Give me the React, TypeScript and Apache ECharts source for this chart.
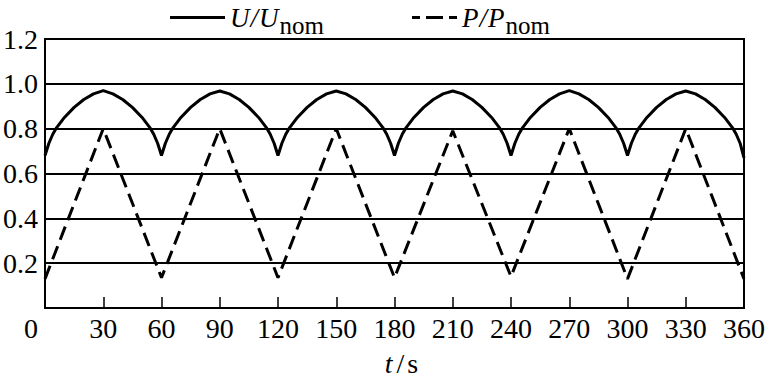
import React, { useEffect, useRef } from "react";
import * as echarts from "echarts";

// U/Unom samples (time in s, value)
const uTimes = [
  0, 2, 4, 6, 10, 15, 20, 25, 30, 35, 40, 45, 50, 54, 56, 58,
  60, 62, 64, 66, 70, 75, 80, 85, 90, 95, 100, 105, 110, 114, 116, 118,
  120, 122, 124, 126, 130, 135, 140, 145, 150, 155, 160, 165, 170, 174, 176, 178,
  180, 182, 184, 186, 190, 195, 200, 205, 210, 215, 220, 225, 230, 234, 236, 238,
  240, 242, 244, 246, 250, 255, 260, 265, 270, 275, 280, 285, 290, 294, 296, 298,
  300, 302, 304, 306, 310, 315, 320, 325, 330, 335, 340, 345, 350, 354, 356, 358,
  360,
];
const uValues = [
  0.68, 0.735, 0.775, 0.805, 0.85, 0.895, 0.93, 0.955, 0.97, 0.955, 0.93, 0.895, 0.85, 0.805, 0.775, 0.735,
  0.68, 0.735, 0.775, 0.805, 0.85, 0.895, 0.93, 0.955, 0.968, 0.955, 0.93, 0.895, 0.85, 0.805, 0.775, 0.735,
  0.68, 0.735, 0.775, 0.805, 0.85, 0.895, 0.93, 0.955, 0.968, 0.955, 0.93, 0.895, 0.85, 0.805, 0.775, 0.735,
  0.68, 0.735, 0.775, 0.805, 0.85, 0.895, 0.93, 0.955, 0.968, 0.955, 0.93, 0.895, 0.85, 0.805, 0.775, 0.735,
  0.68, 0.735, 0.775, 0.805, 0.85, 0.895, 0.93, 0.955, 0.97, 0.955, 0.93, 0.895, 0.85, 0.805, 0.775, 0.735,
  0.68, 0.735, 0.775, 0.805, 0.85, 0.895, 0.93, 0.955, 0.968, 0.955, 0.93, 0.895, 0.85, 0.805, 0.775, 0.735,
  0.67,
];

// P/Pnom samples
const pTimes = [0, 30, 60, 90, 120, 150, 180, 210, 240, 270, 300, 330, 360];
const pValues = [0.13, 0.8, 0.135, 0.8, 0.135, 0.8, 0.135, 0.79, 0.14, 0.8, 0.13, 0.8, 0.13];

const xTicks = { min: 0, max: 360, interval: 30 };
const yTicks = { min: 0, max: 1.2, interval: 0.2 };

const FONT = "Liberation Serif";

export default function App() {
  const ref = useRef<HTMLDivElement>(null);
  useEffect(() => {
    if (!ref.current) return;
    const chart = echarts.init(ref.current, null, { renderer: "svg" });
    const legendRich = {
      i: { fontStyle: "italic", fontSize: 27, fontFamily: FONT, color: "#000", lineHeight: 26 },
      n: { fontStyle: "italic", fontSize: 27, fontFamily: FONT, color: "#000", lineHeight: 26, padding: [0, 1, 0, 1] },
      s: { fontSize: 25, fontFamily: FONT, color: "#000", lineHeight: 26, padding: [16, 0, 0, 1] },
    };
    const legendText = { padding: [0, 0, 0, 0], rich: legendRich };
    chart.setOption({
      animation: false,
      backgroundColor: "#fff",
      grid: {
        left: 42,
        right: 21,
        top: 39,
        bottom: 70,
        show: true,
        borderColor: "#000",
        borderWidth: 2,
        backgroundColor: "transparent",
      },
      legend: [
        {
          left: 165,
          top: -8,
          itemWidth: 55,
          itemHeight: 3,
          icon: "rect",
          data: ["U"],
          formatter: () => "{i|U}{n|/}{i|U}{s|nom}",
          textStyle: legendText,
        },
        {
          left: 407,
          top: -8,
          itemWidth: 45,
          itemHeight: 3,
          icon: "path://M0,0h8v3h-8z M14,0h17v3h-17z M37,0h8v3h-8z",
          data: ["P"],
          formatter: () => "{i|P}{n|/}{i|P}{s|nom}",
          textStyle: legendText,
        },
      ],
      xAxis: {
        type: "value",
        min: xTicks.min,
        max: xTicks.max,
        interval: xTicks.interval,
        name: "{i|t}{n|/}{m|s}",
        nameLocation: "middle",
        nameGap: 41,
        nameTextStyle: {
          fontSize: 28,
          fontFamily: FONT,
          color: "#000",
          padding: [0, 0, 0, 14],
          rich: {
            i: { fontStyle: "italic", fontSize: 28, fontFamily: FONT, color: "#000", padding: [0, 4, 0, 0] },
            n: { fontSize: 28, fontFamily: FONT, color: "#000", padding: [0, 3, 0, 0] },
            m: { fontSize: 28, fontFamily: FONT, color: "#000" },
          },
        },
        axisLine: { show: true, lineStyle: { color: "#000", width: 2 } },
        axisTick: { show: true, inside: true, length: 11, lineStyle: { color: "#000", width: 1.5 } },
        splitLine: { show: false },
        axisLabel: {
          fontSize: 28,
          fontFamily: FONT,
          color: "#000",
          margin: 6,
          formatter: (v: number) => (v === 0 ? "{z|0}" : String(v)),
          rich: { z: { fontSize: 28, fontFamily: FONT, color: "#000", padding: [0, 28, 0, 0] } },
        },
      },
      yAxis: {
        type: "value",
        min: yTicks.min,
        max: yTicks.max,
        interval: yTicks.interval,
        axisLine: { show: true, lineStyle: { color: "#000", width: 2 } },
        axisTick: { show: false },
        splitLine: { show: true, lineStyle: { color: "#000", width: 2 } },
        axisLabel: {
          fontSize: 28,
          fontFamily: FONT,
          color: "#000",
          margin: 7,
          showMinLabel: false,
          formatter: (v: number) => v.toFixed(1),
        },
      },
      series: [
        {
          name: "U",
          type: "line",
          symbol: "none",
          showSymbol: false,
          data: uTimes.map((t, i) => [t, uValues[i]]),
          lineStyle: { color: "#000", width: 3 },
          itemStyle: { color: "#000" },
        },
        {
          name: "P",
          type: "line",
          symbol: "none",
          showSymbol: false,
          data: pTimes.map((t, i) => [t, pValues[i]]),
          lineStyle: { color: "#000", width: 3, type: [14, 7] },
          itemStyle: { color: "#000" },
        },
      ],
    });
    return () => chart.dispose();
  }, []);
  return (
    <div
      ref={ref}
      style={{ position: "fixed", left: 0, top: 0, width: 768, height: 382, background: "#fff" }}
    />
  );
}
